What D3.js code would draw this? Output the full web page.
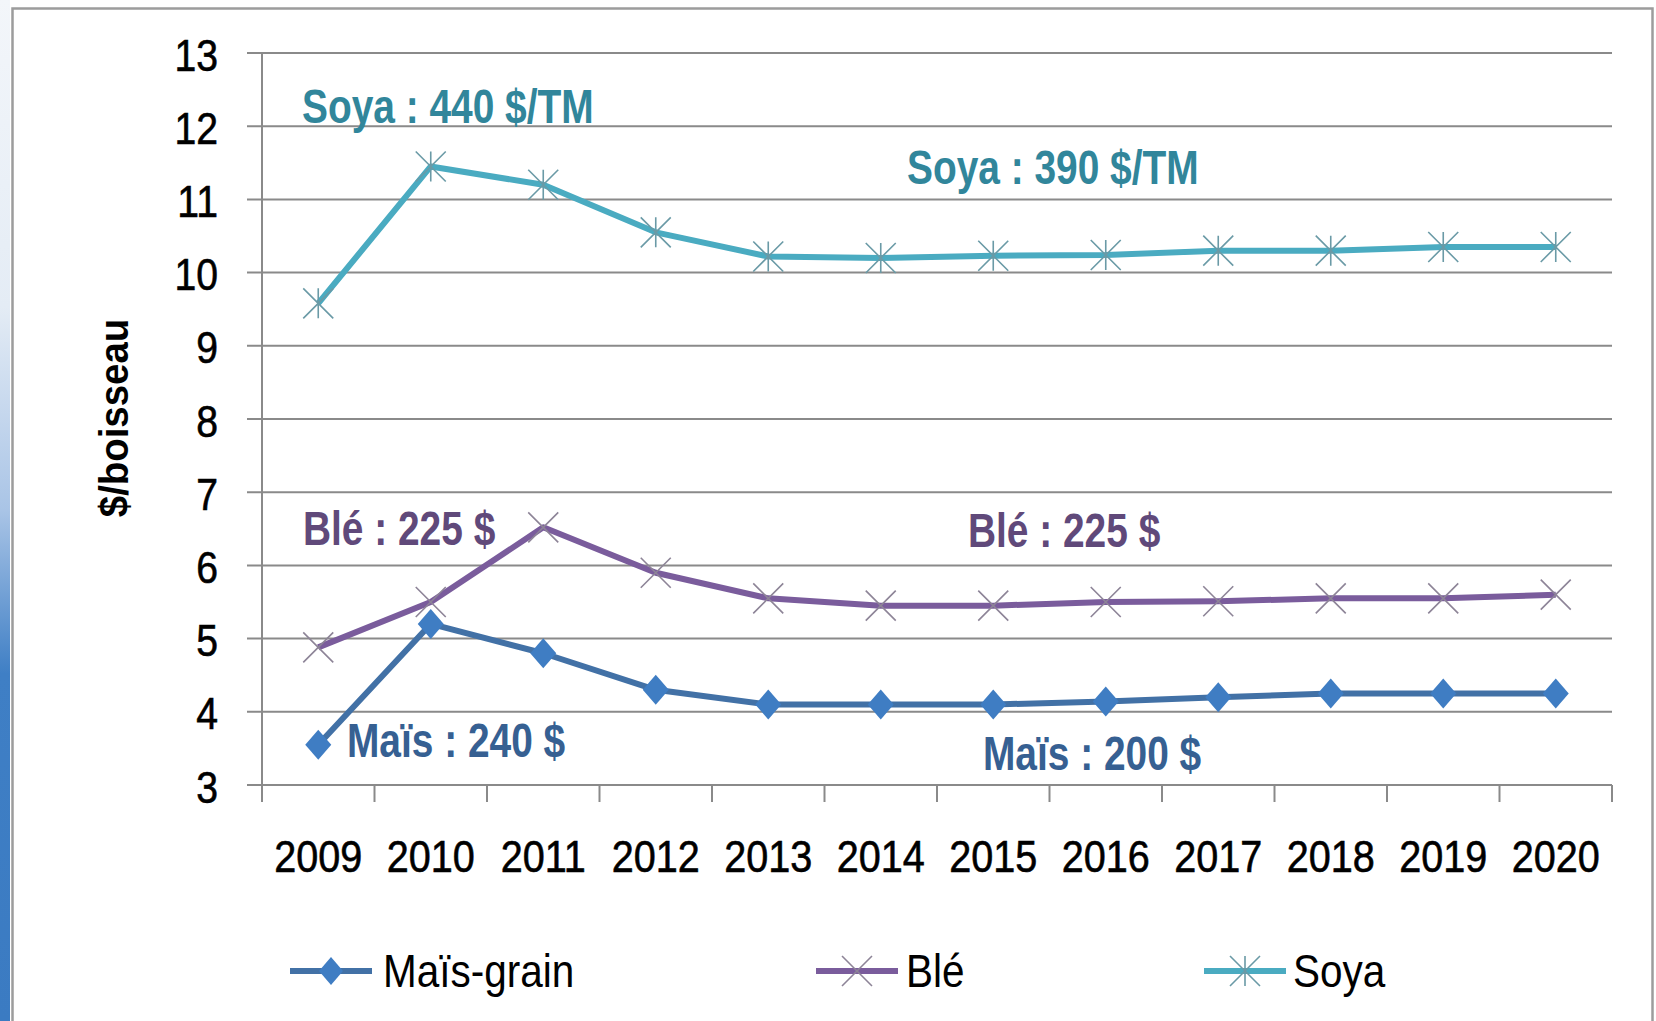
<!DOCTYPE html>
<html>
<head>
<meta charset="utf-8">
<script src="https://cdn.jsdelivr.net/npm/d3@7"></script>
<style>
  html, body { margin: 0; padding: 0; background: #fff; }
  svg { display: block; font-family: 'Liberation Sans', Arial, sans-serif; }
</style>
</head>
<body>
<div id="chart"></div>
<script>
const years = ['2009', '2010', '2011', '2012', '2013', '2014', '2015', '2016', '2017', '2018', '2019', '2020']
const maisValues = [3.55, 5.2, 4.8, 4.3, 4.1, 4.1, 4.1, 4.14, 4.2, 4.25, 4.25, 4.25]
const bleValues = [4.88, 5.5, 6.52, 5.9, 5.55, 5.45, 5.45, 5.5, 5.51, 5.55, 5.55, 5.6]
const soyaValues = [9.58, 11.45, 11.2, 10.55, 10.22, 10.2, 10.23, 10.24, 10.3, 10.3, 10.35, 10.35]
const yTicks = [3, 4, 5, 6, 7, 8, 9, 10, 11, 12, 13]
const seriesNames = ['Maïs-grain', 'Blé', 'Soya']
const annotationTexts = ['Soya : 440 $/TM', 'Soya : 390 $/TM', 'Blé : 225 $', 'Blé : 225 $', 'Maïs : 240 $', 'Maïs : 200 $']

const width = 1656
const height = 1021
const plot = { left: 262, right: 1612, top: 53, bottom: 785 }

const styles = [
  { line: '#4271a6', marker: 'diamond', fill: '#3f7dc3', text: '#366092' },
  { line: '#7a5c9c', marker: 'cross', stroke: '#8d8497', text: '#60497a' },
  { line: '#4aabc1', marker: 'star', stroke: '#6a9aa6', text: '#31869b' }
]

// pixel layout of the text callouts (s = series whose colour is used)
const annotationPos = [
  { x: 302, y: 123, s: 2 }, { x: 907, y: 184, s: 2 },
  { x: 303, y: 545, s: 1 }, { x: 968, y: 547, s: 1 },
  { x: 347, y: 757, s: 0 }, { x: 983, y: 770, s: 0 }
]

const legendPos = [{ x: 290, text: 383 }, { x: 816, text: 906 }, { x: 1204, text: 1293 }]

const svg = d3.select('#chart')
  .append('svg')
  .attr('width', width)
  .attr('height', height)

// slide background strip on the left
const defs = svg.append('defs')
const grad = defs.append('linearGradient')
  .attr('id', 'strip')
  .attr('x1', 0).attr('y1', 0).attr('x2', 0).attr('y2', 1)
grad.append('stop').attr('offset', '0%').attr('stop-color', '#f3f6fa')
grad.append('stop').attr('offset', '30%').attr('stop-color', '#e4ecf5')
grad.append('stop').attr('offset', '50%').attr('stop-color', '#a9c4e6')
grad.append('stop').attr('offset', '66%').attr('stop-color', '#3f7fc5')
grad.append('stop').attr('offset', '100%').attr('stop-color', '#3b7bc2')

svg.append('rect')
  .attr('x', 0).attr('y', 0)
  .attr('width', 10).attr('height', height)
  .attr('fill', 'url(#strip)')

// chart frame
svg.append('rect')
  .attr('x', 12.5).attr('y', 8.5)
  .attr('width', 1640).attr('height', 1040)
  .attr('fill', '#fff')
  .attr('stroke', '#9c9c9c')
  .attr('stroke-width', 2.5)

const x = d3.scaleBand()
  .domain(years)
  .range([plot.left, plot.right])

const y = d3.scaleLinear()
  .domain([3, 13])
  .range([plot.bottom, plot.top])

const cx = d => x(d) + x.bandwidth() / 2

// gridlines
svg.append('g')
  .selectAll('line')
  .data(yTicks)
  .join('line')
  .attr('x1', plot.left - 15)
  .attr('x2', plot.right)
  .attr('y1', d => y(d))
  .attr('y2', d => y(d))
  .attr('stroke', '#8a8a8a')
  .attr('stroke-width', 2)

// y axis
const yAxisG = svg.append('g')
  .attr('transform', `translate(${plot.left}, 0)`)
  .call(d3.axisLeft(y).tickValues(yTicks).tickSize(15).tickSizeOuter(0).tickFormat(d3.format('d')))

yAxisG.select('.domain')
  .attr('stroke', '#8a8a8a')
  .attr('stroke-width', 2)
  .attr('d', `M0,${plot.top}V${plot.bottom + 17}`)
yAxisG.selectAll('.tick line').attr('stroke', 'none')
yAxisG.selectAll('.tick text')
  .attr('x', null)
  .attr('dy', null)
  .attr('transform', 'translate(-44, 17) scale(0.89, 1)')
  .attr('font-size', 44)
  .attr('fill', '#000')
  .attr('stroke', '#000')
  .attr('stroke-width', 0.6)

// x axis
const xAxisG = svg.append('g')
  .attr('transform', `translate(0, ${plot.bottom})`)
  .call(d3.axisBottom(x).tickSize(0).tickSizeOuter(0))

xAxisG.select('.domain').remove()
xAxisG.selectAll('.tick text')
  .attr('y', null)
  .attr('dy', null)
  .attr('transform', 'translate(0, 87) scale(0.9, 1)')
  .attr('font-size', 44)
  .attr('fill', '#000')
  .attr('stroke', '#000')
  .attr('stroke-width', 0.6)

svg.append('line')
  .attr('x1', plot.left - 15).attr('x2', plot.right)
  .attr('y1', plot.bottom).attr('y2', plot.bottom)
  .attr('stroke', '#8a8a8a').attr('stroke-width', 2)

svg.append('g')
  .selectAll('line')
  .data(years.map(d => x(d)).concat([plot.right]))
  .join('line')
  .attr('x1', d => d).attr('x2', d => d)
  .attr('y1', plot.bottom).attr('y2', plot.bottom + 17)
  .attr('stroke', '#8a8a8a')
  .attr('stroke-width', 2)

// y title
svg.append('text')
  .attr('transform', 'translate(128, 418) rotate(-90) scale(0.96, 1)')
  .attr('text-anchor', 'middle')
  .attr('font-size', 40)
  .attr('font-weight', 'bold')
  .attr('fill', '#000')
  .text('$/boisseau')

// markers
function drawMarker (g, type, style, size) {
  const h = size / 2
  if (type === 'diamond') {
    g.append('path')
      .attr('d', `M0,${-h - 1}L${h - 1},0L0,${h + 1}L${-h + 1},0Z`)
      .attr('fill', style.fill)
  } else {
    g.append('path')
      .attr('d', `M${-h},${-h}L${h},${h}M${-h},${h}L${h},${-h}` + (type === 'star' ? `M0,${-h}L0,${h}` : ''))
      .attr('stroke', style.stroke)
      .attr('stroke-width', 1.6)
      .attr('fill', 'none')
  }
}

const line = d3.line()
  .x((d, i) => cx(years[i]))
  .y(d => y(d))

const allSeries = [maisValues, bleValues, soyaValues]

allSeries.forEach((values, si) => {
  const st = styles[si]
  const g = svg.append('g')
  g.append('path')
    .datum(values)
    .attr('d', line)
    .attr('fill', 'none')
    .attr('stroke', st.line)
    .attr('stroke-width', 6)
    .attr('stroke-linejoin', 'round')
  g.selectAll('g.m')
    .data(values)
    .join('g')
    .attr('class', 'm')
    .attr('transform', (d, i) => `translate(${cx(years[i])}, ${y(d)})`)
    .each(function () { drawMarker(d3.select(this), st.marker, st, st.marker === 'diamond' ? 28 : 30) })
})

// callouts
svg.append('g')
  .selectAll('text')
  .data(annotationTexts)
  .join('text')
  .attr('transform', (d, i) => `translate(${annotationPos[i].x}, ${annotationPos[i].y}) scale(0.81, 1)`)
  .attr('font-size', 48)
  .attr('font-weight', 'bold')
  .attr('fill', (d, i) => styles[annotationPos[i].s].text)
  .text(d => d)

// legend
const legend = svg.append('g')
  .attr('transform', 'translate(0, 971)')

seriesNames.forEach((name, i) => {
  const st = styles[i]
  const lp = legendPos[i]
  legend.append('line')
    .attr('x1', lp.x).attr('x2', lp.x + 82)
    .attr('y1', 0).attr('y2', 0)
    .attr('stroke', st.line)
    .attr('stroke-width', 6)
  const mg = legend.append('g').attr('transform', `translate(${lp.x + 41}, 0)`)
  drawMarker(mg, st.marker, st, st.marker === 'diamond' ? 26 : 30)
  legend.append('text')
    .attr('transform', `translate(${lp.text}, 16) scale(0.88, 1)`)
    .attr('font-size', 46)
    .attr('fill', '#000')
    .text(name)
})
</script>
</body>
</html>
